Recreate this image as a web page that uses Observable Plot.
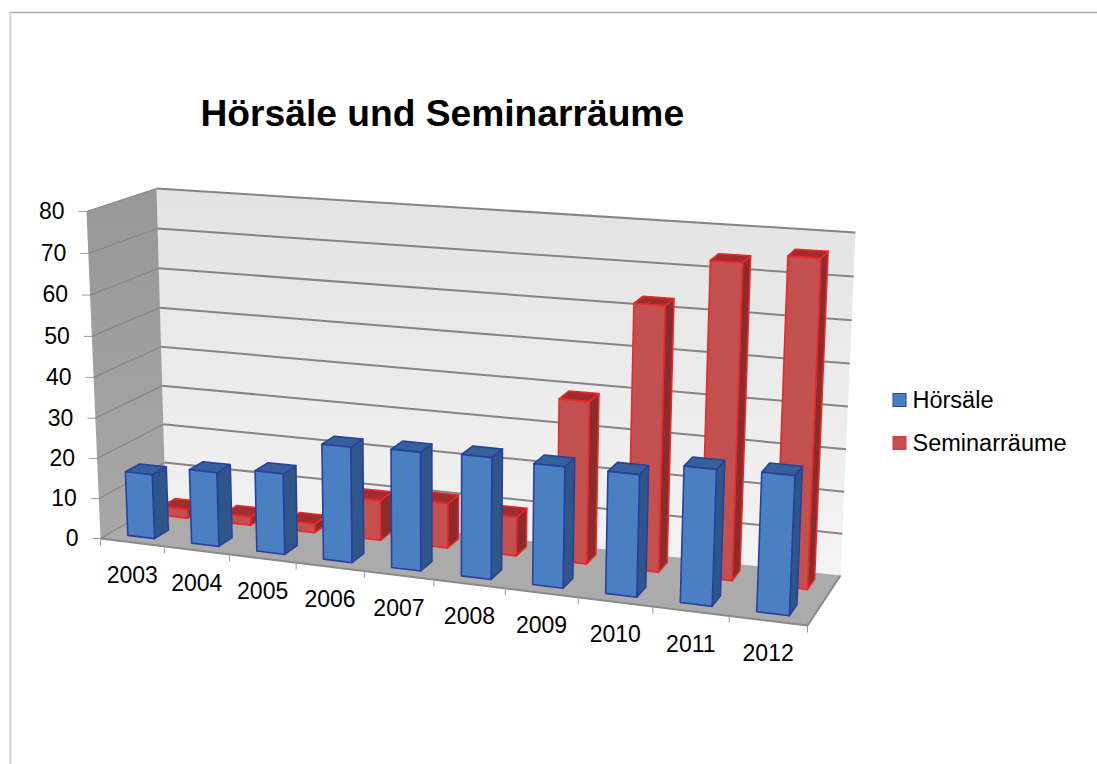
<!DOCTYPE html>
<html><head><meta charset="utf-8">
<script src="https://cdn.jsdelivr.net/npm/d3@7"></script>
<script src="https://cdn.jsdelivr.net/npm/@observablehq/plot@0.6"></script>
<style>html,body{margin:0;padding:0;background:#fff}svg{display:block}</style>
</head><body><div id="chart"></div>
<script>
const years = [2003,2004,2005,2006,2007,2008,2009,2010,2011,2012];
const hoersaele = [16,18.3,19.8,28,28.5,29,28.6,28.6,31.6,32];
const seminar = [2.2,2.2,2.2,10,11,9.5,39.1,63,74.1,76.3];
const valueTicks = [0,10,20,30,40,50,60,70,80];
const seriesNames = ["Hörsäle","Seminarräume"];
const W = 1097, H = 764;
// The 3D frame of the picture: a box seen in perspective
const box = {
  flb:[100,538], flt:[86,211], blb:[165,500], blt:[156,188],
  frb:[807,625], frt:[822,265], brb:[840,575], brt:[855,232]
};
const persp = 1.12, perspV = 1.03;
const N = years.length, VMAX = 80;
function P(cat, depth, value){
  const a = cat/N, u = a/(a+persp*(1-a)), b = value/VMAX, w = b/(b+perspV*(1-b)), v = depth;
  const lerp=(p,q,t)=>[p[0]+(q[0]-p[0])*t,p[1]+(q[1]-p[1])*t];
  const bot = lerp(lerp(box.flb,box.frb,u),lerp(box.blb,box.brb,u),v);
  const top = lerp(lerp(box.flt,box.frt,u),lerp(box.blt,box.brt,u),v);
  return lerp(bot,top,w);
}
const styles = [
  {front:"#4a80c2",side:"#2f5689",top:"#35609a",stroke:"#2a3fa0",d0:.14,d1:.36},
  {front:"#c2504e",side:"#8a2c2b",top:"#a22c2c",stroke:"#e8282c",d0:.67,d1:.88}
];
const barF = .42;
const faces = [];
function poly(id,pts,fill,stroke){
  [...pts,pts[0]].forEach(p=>faces.push({id,x:p[0],y:p[1],fill,stroke}));
}
function bar(i,val,s,key){
  const c0=i+(1-barF)/2,c1=i+(1+barF)/2,{d0,d1}=s;
  poly(key+"side",[P(c1,d0,0),P(c1,d1,0),P(c1,d1,val),P(c1,d0,val)],s.side,s.stroke);
  poly(key+"top",[P(c0,d0,val),P(c1,d0,val),P(c1,d1,val),P(c0,d1,val)],s.top,s.stroke);
  poly(key+"front",[P(c0,d0,0),P(c1,d0,0),P(c1,d0,val),P(c0,d0,val)],s.front,s.stroke);
}
seminar.forEach((v,i)=>bar(i,v,styles[1],"r"+i));
hoersaele.forEach((v,i)=>bar(i,v,styles[0],"b"+i));

const wall=(pts)=>[...pts,pts[0]].map(p=>({x:p[0],y:p[1]}));
const gridBack = valueTicks.filter(v=>v>0).map(v=>{const a=P(0,1,v),b=P(N,1,v);return {x1:a[0],y1:a[1],x2:b[0],y2:b[1]};});
const gridSide = valueTicks.map(v=>{const a=P(0,0,v),b=P(0,1,v);return {x1:a[0],y1:a[1],x2:b[0],y2:b[1]};});
const yTick = valueTicks.map(v=>{const a=P(0,0,v);return {x:a[0],y:a[1],label:String(v)};});
const xTick = d3.range(N+1).map(i=>{const a=P(i,0,0);return {x:a[0],y:a[1]};});
const xLabel = years.map((yr,i)=>{const a=P(i+.5,0,0);return {x:a[0],y:a[1]+33,label:String(yr)};});
const legend = [{x:912,y:400,label:seriesNames[0],c:"#4a80c2",s:"#2a3fa0"},{x:912,y:443,label:seriesNames[1],c:"#c2504e",s:"#d8383a"}];
const font = "Liberation Sans, Arial, sans-serif";
const defs = () => {
  const ns="http://www.w3.org/2000/svg", d=document.createElementNS(ns,"defs");
  const grad=(id,a,b)=>{const g=document.createElementNS(ns,"linearGradient");g.setAttribute("id",id);g.setAttribute("x1","0");g.setAttribute("y1","0");g.setAttribute("x2","0");g.setAttribute("y2","1");
    [[0,a],[1,b]].forEach(([o,c])=>{const s=document.createElementNS(ns,"stop");s.setAttribute("offset",o);s.setAttribute("stop-color",c);g.appendChild(s);});d.appendChild(g);};
  grad("backWall","#e3e3e3","#f4f4f4");grad("sideWall","#979797","#a8a8a8");
  return d;
};
const chart = Plot.plot({
  width:W,height:H,margin:0,
  x:{domain:[0,W],range:[0,W],axis:null},
  y:{domain:[0,H],range:[0,H],axis:null},
  color:{type:"identity"},
  style:{background:"#fff",fontFamily:font,overflow:"visible"},
  marks:[
    defs,
    Plot.ruleY([12],{x1:9,x2:W,stroke:"#a8a8a8",strokeWidth:1.5}),
    Plot.ruleX([10],{y1:12,y2:H,stroke:"#d2d2d2",strokeWidth:2}),
    Plot.line(wall([P(0,1,0),P(N,1,0),P(N,1,VMAX),P(0,1,VMAX)]),{x:"x",y:"y",fill:"url(#backWall)"}),
    Plot.line(wall([P(0,0,0),P(0,1,0),P(0,1,VMAX),P(0,0,VMAX)]),{x:"x",y:"y",fill:"url(#sideWall)"}),
    Plot.line(wall([P(0,0,0),P(N,0,0),P(N,1,0),P(0,1,0)]),{x:"x",y:"y",fill:"#ababab"}),
    Plot.link(gridBack,{x1:"x1",y1:"y1",x2:"x2",y2:"y2",stroke:"#858585",strokeWidth:2}),
    Plot.link(gridSide,{x1:"x1",y1:"y1",x2:"x2",y2:"y2",stroke:"#858585",strokeWidth:1.2}),
    Plot.link([{a:P(0,0,0),b:P(N,0,0)},{a:P(N,0,0),b:P(N,1,0)}],{x1:d=>d.a[0],y1:d=>d.a[1],x2:d=>d.b[0],y2:d=>d.b[1],stroke:"#8a8a8a",strokeWidth:2}),
    Plot.link(yTick,{x1:d=>d.x-8,x2:"x",y1:"y",y2:"y",stroke:"#9a9a9a",strokeWidth:1}),
    Plot.link(xTick,{x1:"x",x2:"x",y1:"y",y2:d=>d.y+7,stroke:"#9a9a9a",strokeWidth:1}),
    Plot.line(faces,{x:"x",y:"y",z:"id",fill:"fill",stroke:"stroke",strokeWidth:1.6,strokeLinejoin:"round"}),
    Plot.text(yTick,{x:d=>d.x-22,y:"y",text:"label",textAnchor:"end",fontSize:23,fill:"#000"}),
    Plot.text(xLabel,{x:"x",y:"y",text:"label",fontSize:23,fill:"#000"}),
    Plot.text(["Hörsäle und Seminarräume"],{x:200,y:114,textAnchor:"start",fontSize:37.2,fontWeight:"bold",fill:"#000"}),
    Plot.rect(legend,{x1:d=>d.x-19,x2:d=>d.x-6,y1:d=>d.y-6.5,y2:d=>d.y+6.5,fill:"c",stroke:"s",strokeWidth:1}),
    Plot.text(legend,{x:"x",y:"y",text:"label",textAnchor:"start",fontSize:23.5,fill:"#000"})
  ]
});
document.getElementById("chart").appendChild(chart);
</script></body></html>
